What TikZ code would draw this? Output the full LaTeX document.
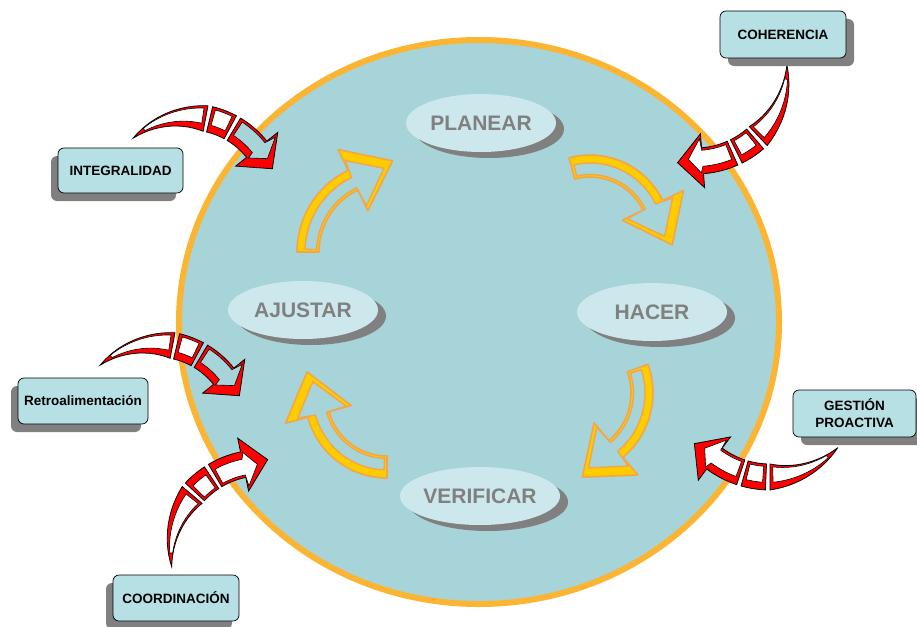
\documentclass[tikz,border=0pt]{standalone}
\usepackage{fontspec}
\setmainfont{Liberation Sans}
\usetikzlibrary{shapes.geometric,shadows}

\definecolor{poolfill}{HTML}{A6D4D9}
\definecolor{ringline}{HTML}{FBB533}
\definecolor{stagefill}{HTML}{CDE8EC}
\definecolor{stagetext}{HTML}{808080}
\definecolor{tagfill}{HTML}{B7E0E4}
\definecolor{shade}{HTML}{808080}
\definecolor{yelfill}{HTML}{FFCC00}
\definecolor{yelline}{HTML}{F2A64A}

\tikzset{
  stage/.style={ellipse, fill=stagefill, minimum width=150pt, minimum height=58pt,
    inner sep=0pt, text=stagetext, font=\fontsize{21}{24}\selectfont\bfseries,
    drop shadow={shadow xshift=8pt, shadow yshift=-6pt, fill=shade, opacity=1}},
  tag/.style={rectangle, rounded corners=6pt, draw=black, line width=0.7pt,
    fill=tagfill, minimum width=126pt, minimum height=46pt, inner sep=2pt,
    font=\fontsize{13.5}{17}\selectfont\bfseries, align=center},
  tagL/.style={tag, drop shadow={shadow xshift=-7pt, shadow yshift=-8pt, fill=shade, opacity=1}},
  tagR/.style={tag, drop shadow={shadow xshift=8pt, shadow yshift=-8pt, fill=shade, opacity=1}},
  redpiece/.style={fill=red, draw=black, line width=0.8pt, line join=miter},
  redhole/.style={draw=black, line width=0.6pt},
  yelpiece/.style={fill=yelfill, draw=yelline, line width=1.6pt, line join=round},
  yelhole/.style={fill=poolfill, draw=yelline, line width=1.4pt, line join=round},
}

% Segmented 3D red arrow running along a circular arc.
% #1,#2 arc centre; #3 radius; #4 tail angle; #5 angle of the head base;
% #6 thick side (+1 outer, -1 inner); #7 fill of the opening in the head
\newcommand\redarrow[7]{%
 \begin{scope}[shift={(#1,#2)}]
  \pgfmathsetmacro\rr{#3}
  \pgfmathsetmacro\ta{#4}
  \pgfmathsetmacro\tf{#5}
  \pgfmathsetmacro\td{\tf-(\ta)}
  \pgfmathsetmacro\dir{sign(\td)}
  \pgfmathsetmacro\tb{\ta+0.56*(\td)}
  \pgfmathsetmacro\tc{\ta+0.59*(\td)}
  \pgfmathsetmacro\tm{\ta+0.75*(\td)}
  \pgfmathsetmacro\te{\ta+0.78*(\td)}
  \pgfmathsetmacro\ins{0.022*(\td)}
  \pgfmathsetmacro\klo{5-2.5*(#6)}
  \pgfmathsetmacro\khi{5+2.5*(#6)}
  \pgfmathsetmacro\tah{\ta+0.18*(\tb-(\ta))}
  \pgfmathsetmacro\tbh{\tb-(\ins)}
  \pgfmathsetmacro\tch{\tc+(\ins)}
  \pgfmathsetmacro\tmh{\tm-(\ins)}
  \pgfmathsetmacro\teh{\te+(\ins)}
  \pgfmathsetmacro\tfh{\tf+0.6*(\ins)}
  \pgfmathsetmacro\tipx{\rr*cos(\tf)+25*cos(\tf+90*\dir)}
  \pgfmathsetmacro\tipy{\rr*sin(\tf)+25*sin(\tf+90*\dir)}
  \pgfmathsetmacro\hx{(\rr+0.5*(\klo-\khi))*cos(\tf)+14*cos(\tf+90*\dir)}
  \pgfmathsetmacro\hy{(\rr+0.5*(\klo-\khi))*sin(\tf)+14*sin(\tf+90*\dir)}
  % tapered tail
  \filldraw[redpiece] plot[domain=\ta:\tb,samples=14] (\x:{\rr+13*(\x-(\ta))/(\tb-(\ta))})
     -- plot[domain=\tb:\ta,samples=14] (\x:{\rr-13*(\x-(\ta))/(\tb-(\ta))}) -- cycle;
  \filldraw[redhole, fill=white] plot[domain=\tah:\tbh,samples=12] (\x:{\rr+(13-\khi)*(\x-(\ta))/(\tb-(\ta))})
     -- plot[domain=\tbh:\tah,samples=12] (\x:{\rr-(13-\klo)*(\x-(\ta))/(\tb-(\ta))}) -- cycle;
  % middle block
  \filldraw[redpiece] plot[domain=\tc:\tm,samples=8] (\x:{\rr+13})
     -- plot[domain=\tm:\tc,samples=8] (\x:{\rr-13}) -- cycle;
  \filldraw[redhole, fill=white] plot[domain=\tch:\tmh,samples=8] (\x:{\rr+13-\khi})
     -- plot[domain=\tmh:\tch,samples=8] (\x:{\rr-13+\klo}) -- cycle;
  % head
  \filldraw[redpiece] plot[domain=\te:\tf,samples=8] (\x:{\rr+13}) -- (\tf:{\rr+27})
     -- (\tipx,\tipy) -- (\tf:{\rr-27}) -- plot[domain=\tf:\te,samples=8] (\x:{\rr-13}) -- cycle;
  \filldraw[redhole, fill=#7] plot[domain=\teh:\tf,samples=8] (\x:{\rr+13-\khi})
     -- (\tfh:{\rr+27-2*\khi}) -- (\hx,\hy) -- (\tfh:{\rr-27+2*\klo})
     -- plot[domain=\tf:\teh,samples=8] (\x:{\rr-13+\klo}) -- cycle;
 \end{scope}}

% Hollow yellow curved arrow; thick rim on the outer side of the arc.
% #1,#2 arc centre; #3 radius; #4 tail angle; #5 angle of the head base
\newcommand\yelarrow[5]{%
 \begin{scope}[shift={(#1,#2)}]
  \pgfmathsetmacro\rr{#3}
  \pgfmathsetmacro\ta{#4}
  \pgfmathsetmacro\tf{#5}
  \pgfmathsetmacro\td{\tf-(\ta)}
  \pgfmathsetmacro\dir{sign(\td)}
  \pgfmathsetmacro\ins{0.03*(\td)}
  \pgfmathsetmacro\tah{\ta+(\ins)}
  \pgfmathsetmacro\tfh{\tf+0.5*(\ins)}
  \pgfmathsetmacro\tipx{\rr*cos(\tf)+44*cos(\tf+90*\dir)}
  \pgfmathsetmacro\tipy{\rr*sin(\tf)+44*sin(\tf+90*\dir)}
  \pgfmathsetmacro\hx{(\rr-3)*cos(\tf)+33*cos(\tf+90*\dir)}
  \pgfmathsetmacro\hy{(\rr-3)*sin(\tf)+33*sin(\tf+90*\dir)}
  \filldraw[yelpiece] plot[domain=\ta:\tf,samples=16] (\x:{\rr+11}) -- (\tf:{\rr+34})
     -- (\tipx,\tipy) -- (\tf:{\rr-34}) -- plot[domain=\tf:\ta,samples=16] (\x:{\rr-11}) -- cycle;
  \filldraw[yelhole] plot[domain=\tah:\tf,samples=16] (\x:{\rr+3}) -- (\tfh:{\rr+21})
     -- (\hx,\hy) -- (\tfh:{\rr-29}) -- plot[domain=\tf:\tah,samples=16] (\x:{\rr-8.5}) -- cycle;
 \end{scope}}

\begin{document}
\begin{tikzpicture}[x=1pt,y=-1pt]
  \useasboundingbox (0,0) rectangle (917,626);
  \fill[white] (0,0) rectangle (917,626);

  % the cycle area
  \node[ellipse, minimum width=600pt, minimum height=564pt, inner sep=0pt,
        fill=poolfill, draw=ringline, line width=6pt] (pool) at (479,322) {};

  % arrows of the cycle
  \yelarrow{388}{252}{80}{180}{244}
  \yelarrow{590}{236}{70}{-105}{-26}
  \yelarrow{569}{393}{73}{-20}{50}
  \yelarrow{387}{396}{71}{90}{165}

  % stages
  \node[stage] (plan)  at (481,123) {PLANEAR};
  \node[stage] (hacer) at (652,312) {HACER};
  \node[stage] (ajus)  at (303,310) {AJUSTAR};
  \node[stage] (verif) at (480,496) {VERIFICAR};

  % outside inputs
  \redarrow{189.6}{203}{86}{-131}{-38.7}{-1}{poolfill}
  \redarrow{156.6}{430}{86}{-131}{-38.7}{-1}{poolfill}
  \redarrow{695.5}{69.5}{91.5}{-2.8}{85.6}{1}{white}
  \redarrow{770}{384}{93}{43.3}{126.7}{1}{white}
  \redarrow{261.4}{553.5}{90.7}{171.6}{258.4}{1}{white}

  % labels
  \node[tagR, minimum width=126pt, minimum height=47pt] (coh)  at (783,34.5) {COHERENCIA};
  \node[tagL, minimum width=125pt, minimum height=45pt] (integ) at (120.5,170.5) {INTEGRALIDAD};
  \node[tagL, minimum width=130pt, minimum height=46pt] (retro) at (83,401) {Retroalimentación};
  \node[tagR, minimum width=123pt, minimum height=47pt] (gest) at (854.5,413.5) {GESTIÓN\\PROACTIVA};
  \node[tagL, minimum width=126pt, minimum height=46pt] (coord) at (176,598) {COORDINACIÓN};
\end{tikzpicture}
\end{document}
